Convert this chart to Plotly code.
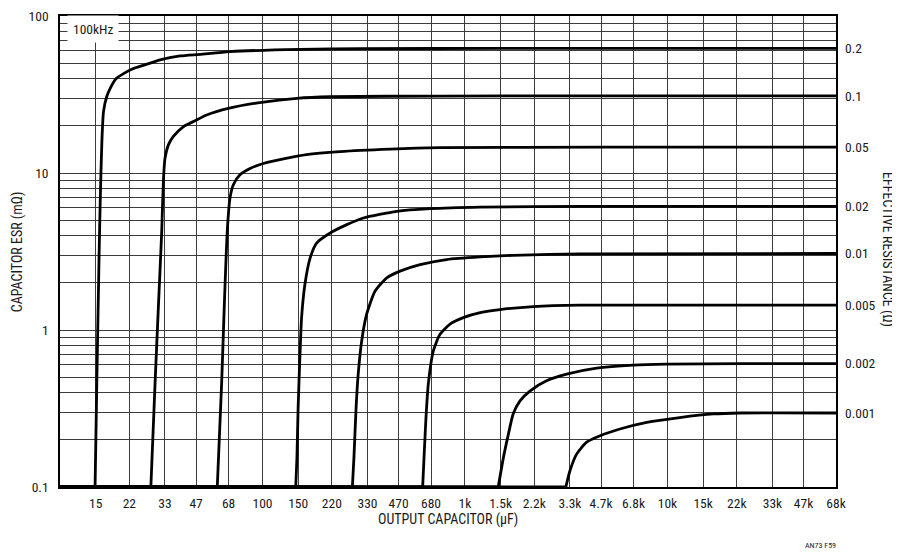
import plotly.graph_objects as go

# ---- data ----
CAP_TICKS = [15, 22, 33, 47, 68, 100, 150, 220, 330, 470, 680, 1000, 1500, 2200,
             3300, 4700, 6800, 10000, 15000, 22000, 33000, 47000, 68000]
CAP_LABELS = ["15", "22", "33", "47", "68", "100", "150", "220", "330", "470", "680",
              "1k", "1.5k", "2.2k", "3.3k", "4.7k", "6.8k", "10k", "15k", "22k",
              "33k", "47k", "68k"]

ESR_GRID = [0.1, 0.2, 0.3, 0.4, 0.5, 0.6, 0.7, 0.8, 0.9,
            1, 2, 3, 4, 5, 6, 7, 8, 9,
            10, 20, 30, 40, 50, 60, 70, 80, 90, 100]
ESR_LABELS = ["0.1", "", "", "", "", "", "", "", "",
              "1", "", "", "", "", "", "", "", "",
              "10", "", "", "", "", "", "", "", "", "100"]

R_LABELS = ["0.2", "0.1", "0.05", "0.02", "0.01", "0.005", "0.002", "0.001"]

# capacitor (uF) / ESR (mOhm) for each effective-resistance curve
C1 = [10, 14.9, 15.2, 15.6, 15.8, 16.1, 16.4, 17.0, 17.7, 18.9, 20.5, 22.9, 25.8, 31.2,
      39.2, 49.1, 69.1, 153, 303, 1490, 68000]
E1 = [0.1, 0.1, 0.47, 3.0, 6.6, 15.9, 24.6, 30.6, 34.6, 39.8, 42.8, 46.1, 48.5, 52.6,
      55.7, 57.0, 59.3, 61.3, 61.9, 62.2, 62.2]

C2 = [10, 28.1, 29.5, 30.7, 31.8, 32.4, 33.0, 34.3, 36.3, 40.6, 46.4, 53.0, 67.8, 99.1,
      148, 216, 753, 4650, 68000]
E2 = [0.1, 0.1, 0.47, 1.53, 4.25, 8.83, 12.4, 15.1, 17.1, 19.7, 21.5, 23.4, 25.8, 28.2,
      29.9, 30.6, 30.9, 31.0, 31.0]

C3 = [10, 59.8, 62.9, 64.9, 67.0, 69.1, 71.8, 77.4, 86.8, 101, 127, 165, 242, 427, 753,
      4650, 68000]
E3 = [0.1, 0.1, 0.47, 1.53, 4.25, 6.92, 8.42, 9.74, 10.7, 11.5, 12.3, 13.1, 13.7, 14.2,
      14.5, 14.6, 14.6]

C4 = [10, 146, 148, 150, 153, 156, 162, 172, 185, 216, 261, 315, 460, 672, 1190, 3700,
      68000]
E4 = [0.1, 0.1, 0.155, 0.321, 0.667, 1.20, 1.95, 2.88, 3.58, 4.15, 4.69, 5.17, 5.70,
      5.93, 6.07, 6.13, 6.13]

C5 = [10, 278, 283, 290, 297, 309, 327, 360, 411, 478, 600, 812, 1190, 1730, 3700, 68000]
E5 = [0.1, 0.1, 0.155, 0.321, 0.523, 0.851, 1.26, 1.77, 2.15, 2.37, 2.61, 2.81, 2.92,
      2.99, 3.05, 3.07]

C6 = [10, 618, 628, 642, 659, 698, 753, 844, 981, 1190, 1490, 2180, 3700, 68000]
E6 = [0.1, 0.1, 0.155, 0.277, 0.452, 0.736, 0.939, 1.09, 1.20, 1.29, 1.35, 1.41, 1.44,
      1.44]

C7 = [10, 1460, 1550, 1640, 1730, 1870, 2100, 2530, 3180, 4470, 6780, 9920, 22800, 68000]
E7 = [0.1, 0.1, 0.155, 0.218, 0.292, 0.354, 0.410, 0.475, 0.523, 0.571, 0.597, 0.606,
      0.611, 0.611]

C8 = [10, 3150, 3300, 3560, 3990, 4650, 5830, 7900, 11500, 16900, 22800, 68000]
E8 = [0.1, 0.1, 0.127, 0.162, 0.193, 0.212, 0.234, 0.258, 0.277, 0.292, 0.296, 0.296]

CURVES = [(C1, E1), (C2, E2), (C3, E3), (C4, E4), (C5, E5), (C6, E6), (C7, E7), (C8, E8)]

FONT = "Liberation Sans Narrow, Roboto Condensed, Liberation Sans, Arial, sans-serif"
GRID = "#3c3c3c"
TXT = "#1a1a1a"

fig = go.Figure()
for c, e in CURVES:
    # flat run along the bottom edge
    fig.add_trace(go.Scatter(x=c[:2], y=e[:2], mode="lines",
                             line=dict(color="black", width=2.8),
                             showlegend=False, hoverinfo="skip"))
    # rising curve, smoothed
    fig.add_trace(go.Scatter(x=c[1:], y=e[1:], mode="lines",
                             line=dict(color="black", width=2.8, shape="spline",
                                       smoothing=0.6),
                             showlegend=False, hoverinfo="skip"))

# invisible trace on the right axis so it renders
fig.add_trace(go.Scatter(x=[CURVES[0][0][-1]], y=[CURVES[0][1][-1]], yaxis="y2",
                         mode="markers", marker=dict(opacity=0), showlegend=False,
                         hoverinfo="skip"))

# page body adds an 8px offset, so the figure is sized 8px smaller
fig.update_layout(
    width=892, height=547,
    margin=dict(l=52, r=64, t=8, b=68, autoexpand=False),
    paper_bgcolor="white", plot_bgcolor="white",
    font=dict(family=FONT, size=13.5, color=TXT),
    xaxis=dict(type="log", range=[1, 4.8325], tickmode="array",
               tickvals=CAP_TICKS, ticktext=CAP_LABELS,
               showgrid=True, gridcolor=GRID, gridwidth=1,
               showline=True, linecolor="black", linewidth=1.5, mirror=True,
               ticks="", ticklabelstandoff=3, zeroline=False,
               ticklabeloverflow="allow",
               tickfont=dict(size=13.5, color=TXT)),
    yaxis=dict(type="log", range=[-1, 2], tickmode="array",
               tickvals=ESR_GRID, ticktext=ESR_LABELS,
               showgrid=True, gridcolor=GRID, gridwidth=1,
               showline=True, linecolor="black", linewidth=1.5, mirror=True,
               ticks="", ticklabelstandoff=7, zeroline=False,
               ticklabeloverflow="allow",
               tickfont=dict(size=13.5, color=TXT)),
    yaxis2=dict(type="log", range=[-1, 2], overlaying="y", side="right", anchor="x",
                tickmode="array", tickvals=[ce[1][-1] for ce in CURVES],
                ticktext=R_LABELS, showgrid=False, ticks="", ticklabelstandoff=8,
                showline=False, zeroline=False, ticklabeloverflow="allow",
                tickfont=dict(size=13.5, color=TXT)),
    annotations=[
        dict(text="100kHz", xref="paper", yref="paper", x=0.0425, y=0.9724,
             xanchor="center", yanchor="middle",
             showarrow=False, bgcolor="white", borderpad=5,
             font=dict(size=13.5, family=FONT, color=TXT)),
        dict(text="CAPACITOR ESR (mΩ)", xref="paper", yref="paper", x=-0.0545, y=0.5,
             xanchor="center", yanchor="middle",
             textangle=-90, showarrow=False, font=dict(size=14, family=FONT, color=TXT)),
        dict(text="EFFECTIVE RESISTANCE (Ω)", xref="paper", yref="paper", x=1.067,
             y=0.503, xanchor="center", yanchor="middle",
             textangle=90, showarrow=False, font=dict(size=14, family=FONT, color=TXT)),
        dict(text="OUTPUT CAPACITOR (µF)", xref="paper", yref="paper", x=0.5,
             y=-0.07, xanchor="center", yanchor="middle", showarrow=False,
             font=dict(size=14, family=FONT, color=TXT)),
        dict(text="AN73 F59", xref="paper", yref="paper", x=1.003, y=-0.125,
             xanchor="right", yanchor="middle", showarrow=False,
             font=dict(size=8, family=FONT, color=TXT)),
    ],
)

fig.write_html("out.html")
